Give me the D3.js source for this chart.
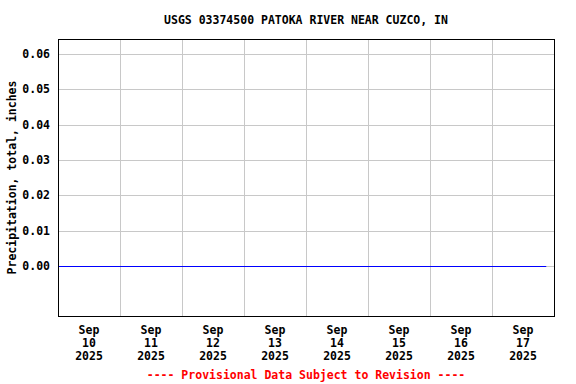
<!DOCTYPE html>
<html>
<head>
<meta charset="utf-8">
<script src="https://cdn.jsdelivr.net/npm/d3@7"></script>
<style>
  body { margin: 0; background: #fff; }
  text { font-family: "DejaVu Sans Mono", "Liberation Mono", monospace; font-weight: bold; }
</style>
</head>
<body>
<div id="chart"></div>
<script>
// precipitation readings (all zero this week)
const times = [
  "2025-09-10T00:00", "2025-09-11T00:00", "2025-09-12T00:00", "2025-09-13T00:00",
  "2025-09-14T00:00", "2025-09-15T00:00", "2025-09-16T00:00", "2025-09-17T00:00",
  "2025-09-17T21:00"
];
const precip = [0, 0, 0, 0, 0, 0, 0, 0, 0];
const yTicks = [0, 0.01, 0.02, 0.03, 0.04, 0.05, 0.06];
const dayLabels = ["2025-09-10", "2025-09-11", "2025-09-12", "2025-09-13",
  "2025-09-14", "2025-09-15", "2025-09-16", "2025-09-17"];

const w = 576, h = 384;
const pLeft = 58, pRight = 554, pTop = 39, pBottom = 316;
const parse = d3.timeParse("%Y-%m-%dT%H:%M");
const parseDay = d3.timeParse("%Y-%m-%d");

const data = times.map((t, i) => ({ t: parse(t), v: precip[i] }));

const svg = d3.select("#chart").append("svg")
  .attr("width", w).attr("height", h);

const x = d3.scaleTime()
  .domain([parseDay("2025-09-10"), parseDay("2025-09-18")])
  .range([pLeft, pRight]);
const y = d3.scaleLinear()
  .domain([-0.01415, 0.0642])
  .range([pBottom, pTop]);

// grid
const grid = svg.append("g").attr("stroke", "#c8c8c8").attr("stroke-width", 1);
grid.selectAll("line.h").data(yTicks).enter().append("line")
  .attr("x1", pLeft).attr("x2", pRight)
  .attr("y1", d => Math.round(y(d)) + 0.5).attr("y2", d => Math.round(y(d)) + 0.5);
grid.selectAll("line.v").data(dayLabels.slice(1)).enter().append("line")
  .attr("x1", d => Math.round(x(parseDay(d))) + 0.5)
  .attr("x2", d => Math.round(x(parseDay(d))) + 0.5)
  .attr("y1", pTop).attr("y2", pBottom);

// data line
const line = d3.line().x(d => x(d.t)).y(d => Math.round(y(d.v)) + 0.5);
svg.append("path").datum(data)
  .attr("fill", "none").attr("stroke", "#0000ff").attr("stroke-width", 1)
  .attr("d", line);

// frame
svg.append("rect")
  .attr("x", pLeft + 0.5).attr("y", pTop + 0.5)
  .attr("width", pRight - pLeft).attr("height", pBottom - pTop)
  .attr("fill", "none").attr("stroke", "#000").attr("stroke-width", 1);

// y axis labels
const yAxis = d3.axisLeft(y).tickValues(yTicks).tickSize(0).tickPadding(8)
  .tickFormat(d3.format(".2f"));
svg.append("g").attr("transform", "translate(" + pLeft + ",0)").call(yAxis)
  .call(g => g.select(".domain").remove())
  .selectAll("text").attr("font-size", "11.5px").attr("font-family", null).attr("fill", "#000");

// x axis labels, centered at noon of each day
const fmtMon = d3.timeFormat("%b"), fmtDay = d3.timeFormat("%d"), fmtYr = d3.timeFormat("%Y");
const noon = d => x(d3.timeHour.offset(parseDay(d), 12));
const xl = svg.append("g").selectAll("text").data(dayLabels).enter().append("text")
  .attr("text-anchor", "middle").attr("font-size", "11.5px");
xl.append("tspan").attr("x", noon).attr("y", 334).text(d => fmtMon(parseDay(d)));
xl.append("tspan").attr("x", noon).attr("y", 347).text(d => fmtDay(parseDay(d)));
xl.append("tspan").attr("x", noon).attr("y", 360).text(d => fmtYr(parseDay(d)));

// title
svg.append("text").attr("x", (pLeft + pRight) / 2).attr("y", 24)
  .attr("text-anchor", "middle").attr("font-size", "11.5px")
  .text("USGS 03374500 PATOKA RIVER NEAR CUZCO, IN");

// y title
svg.append("text")
  .attr("transform", "translate(16," + (pTop + pBottom) / 2 + ")rotate(-90)")
  .attr("text-anchor", "middle").attr("font-size", "11.5px")
  .text("Precipitation, total, inches");

// footer
svg.append("text").attr("x", (pLeft + pRight) / 2).attr("y", 379)
  .attr("text-anchor", "middle").attr("font-size", "11.5px").attr("fill", "#ff0000")
  .text("---- Provisional Data Subject to Revision ----");
</script>
</body>
</html>
